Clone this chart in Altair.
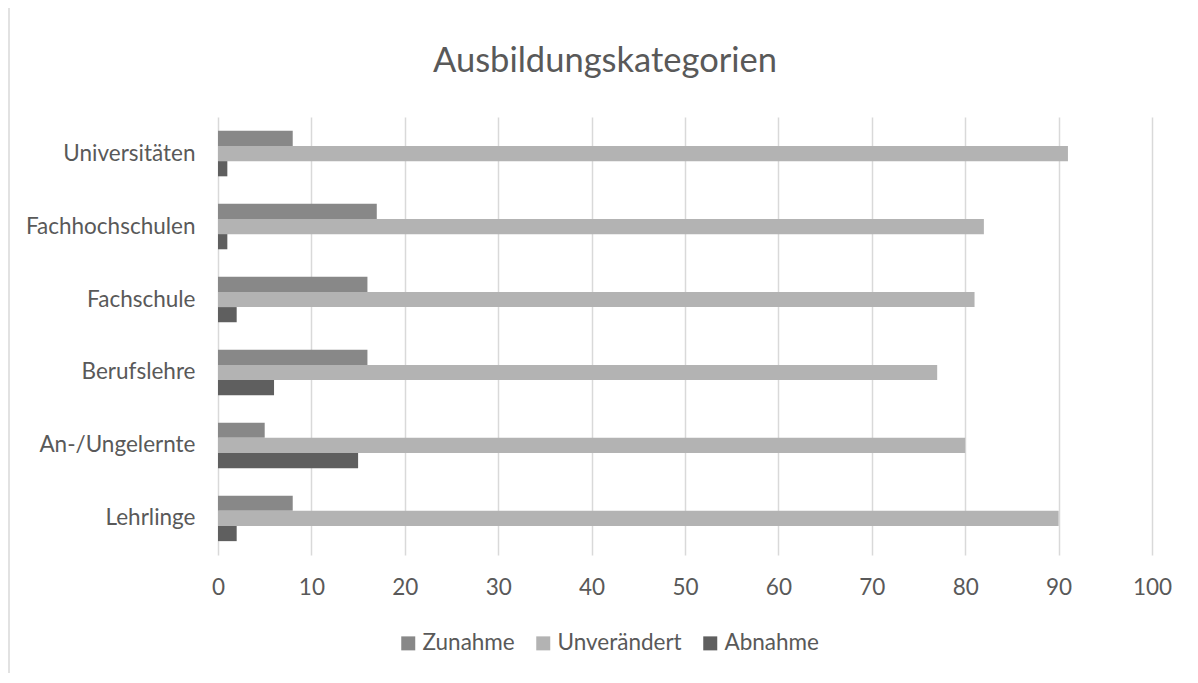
import altair as alt
import pandas as pd

title_text = "Ausbildungskategorien"
categories = ["Universitäten", "Fachhochschulen", "Fachschule", "Berufslehre", "An-/Ungelernte", "Lehrlinge"]
series = ["Zunahme", "Unverändert", "Abnahme"]
zunahme = [8, 17, 16, 16, 5, 8]
unveraendert = [91, 82, 81, 77, 80, 90]
abnahme = [1, 1, 2, 6, 15, 2]
colors = ["#888888", "#b3b3b3", "#5f5f5f"]
x_ticks = [0, 10, 20, 30, 40, 50, 60, 70, 80, 90, 100]

rows = []
for i, c in enumerate(categories):
    for s, vals in zip(series, [zunahme, unveraendert, abnahme]):
        rows.append({"Kategorie": c, "Serie": s, "Wert": vals[i]})
df = pd.DataFrame(rows)

FONT = "Lato"
TXT = "#595959"
FS = 22.5
W, H = 934, 438

bars = alt.Chart(df).mark_bar().encode(
    y=alt.Y("Kategorie:N", sort=categories,
            scale=alt.Scale(paddingInner=0.377, paddingOuter=0.19),
            axis=alt.Axis(title=None, ticks=False, domain=False, labelFontSize=FS,
                          labelFont=FONT, labelColor=TXT, labelPadding=23, grid=False)),
    yOffset=alt.YOffset("Serie:N", sort=series, scale=alt.Scale(paddingInner=0, paddingOuter=0)),
    x=alt.X("Wert:Q", scale=alt.Scale(domain=[0, 100], nice=False),
            axis=alt.Axis(title=None, values=x_ticks, ticks=False, domain=False, grid=True,
                          gridColor="#d9d9d9", gridWidth=1.5, labelFontSize=FS,
                          labelFont=FONT, labelColor=TXT, labelPadding=21,
                          labelFlush=False, labelOverlap=False)),
    color=alt.Color("Serie:N", sort=series,
                    scale=alt.Scale(domain=series, range=colors),
                    legend=alt.Legend(title=None, orient="none", direction="horizontal",
                                      legendX=179, legendY=515, padding=0,
                                      symbolType="square", symbolSize=196, symbolStrokeWidth=0,
                                      labelFontSize=FS, labelFont=FONT, labelColor=TXT,
                                      labelOffset=3, columnPadding=17)),
)

title = alt.Chart(pd.DataFrame({"t": [title_text]})).mark_text(
    font=FONT, fontSize=34.5, color=TXT, align="center", baseline="alphabetic"
).encode(text="t:N", x=alt.value(387), y=alt.value(-45))

border = pd.DataFrame({"a": [0]})
top_line = alt.Chart(border).mark_rule(color="#d9d9d9", strokeWidth=1.5).encode(
    x=alt.value(-209), x2=alt.value(1000), y=alt.value(-110))
left_line = alt.Chart(border).mark_rule(color="#d9d9d9", strokeWidth=1.5).encode(
    x=alt.value(-209), y=alt.value(-110), y2=alt.value(600))

chart = alt.layer(top_line, left_line, bars, title).properties(
    width=W, height=H,
    autosize=alt.AutoSizeParams(type="none"),
    padding={"left": 210, "top": 109, "right": 36, "bottom": 118},
).configure_view(stroke=None)

chart.save("out.html", embed_options={"renderer": "svg", "actions": False})
